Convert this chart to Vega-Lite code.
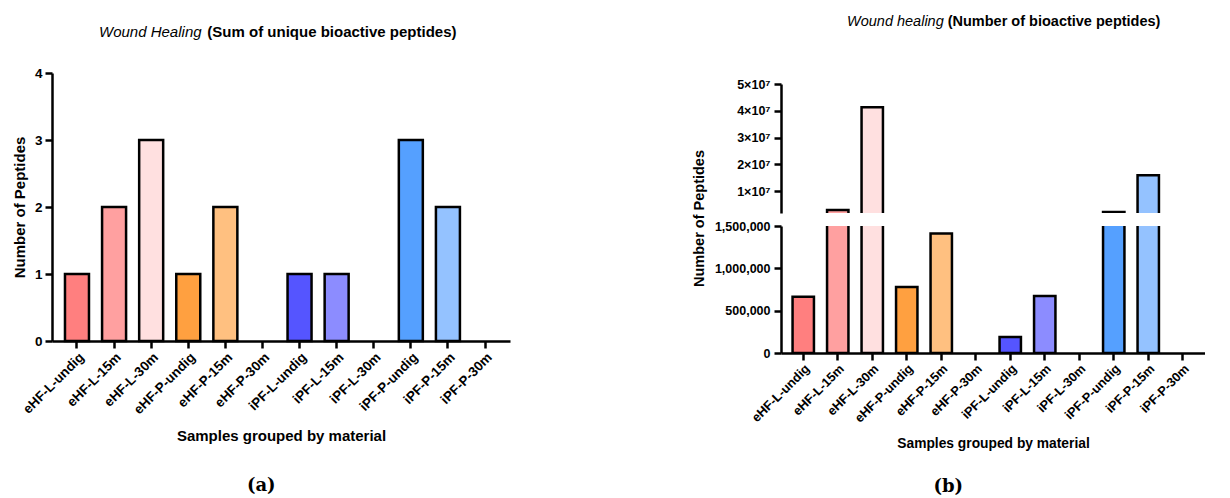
{
  "$schema": "https://vega.github.io/schema/vega-lite/v6.json",
  "padding": {"left": 12, "top": 13, "right": 0, "bottom": 0},
  "config": {
    "view": {"stroke": null},
    "font": "Liberation Sans",
    "axis": {"domainColor": "#000", "domainWidth": 2.5, "tickColor": "#000", "tickWidth": 2.5, "tickSize": 7, "labelColor": "#000", "labelFontWeight": "bold", "titleColor": "#000", "titleFontWeight": "bold", "grid": false, "labelFont": "Liberation Sans", "titleFont": "Liberation Sans"},
    "bar": {"stroke": "#000", "strokeWidth": 2.5},
    "title": {"color": "#000", "subtitleColor": "#000", "font": "Liberation Sans", "subtitleFont": "Liberation Sans"}
  },
  "datasets": {
    "a": [
      {"sample": "eHF-L-undig", "value": 1},
      {"sample": "eHF-L-15m", "value": 2},
      {"sample": "eHF-L-30m", "value": 3},
      {"sample": "eHF-P-undig", "value": 1},
      {"sample": "eHF-P-15m", "value": 2},
      {"sample": "eHF-P-30m", "value": 0},
      {"sample": "iPF-L-undig", "value": 1},
      {"sample": "iPF-L-15m", "value": 1},
      {"sample": "iPF-L-30m", "value": 0},
      {"sample": "iPF-P-undig", "value": 3},
      {"sample": "iPF-P-15m", "value": 2},
      {"sample": "iPF-P-30m", "value": 0}
    ],
    "b": [
      {"sample": "eHF-L-undig", "value": 665000},
      {"sample": "eHF-L-15m", "value": 3000000},
      {"sample": "eHF-L-30m", "value": 41300000},
      {"sample": "eHF-P-undig", "value": 780000},
      {"sample": "eHF-P-15m", "value": 1410000},
      {"sample": "eHF-P-30m", "value": 0},
      {"sample": "iPF-L-undig", "value": 190000},
      {"sample": "iPF-L-15m", "value": 674000},
      {"sample": "iPF-L-30m", "value": 0},
      {"sample": "iPF-P-undig", "value": 2300000},
      {"sample": "iPF-P-15m", "value": 16000000},
      {"sample": "iPF-P-30m", "value": 0}
    ]
  },
  "concat": [
    {
      "vconcat": [
        {
          "width": 458,
          "height": 268,
          "data": {"name": "a"},
          "title": {
            "text": "Wound Healing",
            "fontStyle": "italic",
            "fontWeight": "normal",
            "fontSize": 15,
            "anchor": "start",
            "frame": "group",
            "align": "left",
            "dx": 47,
            "offset": 26,
            "subtitle": "\u200b\u00a0\u00a0\u00a0\u00a0\u00a0\u00a0\u00a0\u00a0\u00a0\u00a0\u00a0\u00a0\u00a0\u00a0\u00a0\u00a0\u00a0\u00a0\u00a0\u00a0\u00a0\u00a0\u00a0\u00a0\u00a0\u00a0(Sum of unique bioactive peptides)",
            "subtitleFontWeight": "bold",
            "subtitleFontStyle": "normal",
            "subtitleFontSize": 15,
            "subtitlePadding": -15
          },
          "mark": {"type": "bar"},
          "encoding": {
            "x": {"field": "sample", "type": "nominal", "sort": null,
              "scale": {"paddingInner": 0.353, "paddingOuter": 0.35},
              "axis": {"title": "Samples grouped by material", "titleFontSize": 15, "labelFontSize": 13.5, "labelAngle": -45, "labelPadding": 2, "titlePadding": 12}},
            "y": {"field": "value", "type": "quantitative",
              "scale": {"domain": [0, 4], "nice": false},
              "axis": {"values": [0, 1, 2, 3, 4], "format": "d", "title": "Number of Peptides", "titleFontSize": 15, "labelFontSize": 13.5, "labelPadding": 3, "titlePadding": 7}},
            "color": {"field": "sample", "type": "nominal", "sort": null,
              "scale": {"domain": ["eHF-L-undig", "eHF-L-15m", "eHF-L-30m", "eHF-P-undig", "eHF-P-15m", "eHF-P-30m", "iPF-L-undig", "iPF-L-15m", "iPF-L-30m", "iPF-P-undig", "iPF-P-15m", "iPF-P-30m"],
                "range": ["#FF7F7F", "#FFA0A0", "#FFE0E0", "#FFA040", "#FFC080", "#FFE0C0", "#5555FF", "#8C8CFF", "#C6C6FF", "#55A0FF", "#94C2FF", "#CCE3FF"]},
              "legend": null},
            "strokeOpacity": {"condition": {"test": "datum.value === 0", "value": 0}, "value": 1}
          }
        }
      ],
      "title": {"text": "(a)", "orient": "bottom", "anchor": "middle", "font": "DejaVu Serif", "fontSize": 18, "fontWeight": "bold", "offset": 34}
    },
    {
      "vconcat": [
        {
          "width": 424,
          "height": 1,
          "data": {"values": [{}]},
          "mark": {"type": "text", "text": ""},
          "encoding": {}
        },
        {
          "vconcat": [
            {
              "width": 424,
              "height": 129,
              "data": {"name": "b"},
              "title": {
                "text": "Wound healing",
                "fontStyle": "italic",
                "fontWeight": "normal",
                "fontSize": 14.5,
                "anchor": "start",
                "frame": "group",
                "align": "left",
                "dx": 66,
                "offset": 49,
                "subtitle": "\u200b\u00a0\u00a0\u00a0\u00a0\u00a0\u00a0\u00a0\u00a0\u00a0\u00a0\u00a0\u00a0\u00a0\u00a0\u00a0\u00a0\u00a0\u00a0\u00a0\u00a0\u00a0\u00a0\u00a0\u00a0\u00a0(Number of bioactive peptides)",
                "subtitleFontWeight": "bold",
                "subtitleFontStyle": "normal",
                "subtitleFontSize": 14.5,
                "subtitlePadding": -14.5
              },
              "mark": {"type": "bar", "clip": true},
              "encoding": {
                "x": {"field": "sample", "type": "nominal", "sort": null,
                  "scale": {"paddingInner": 0.38, "paddingOuter": 0.335},
                  "axis": null},
                "y": {"field": "value", "type": "quantitative",
                  "scale": {"domain": [1900000, 50000000], "nice": false, "zero": false},
                  "axis": {"values": [10000000, 20000000, 30000000, 40000000, 50000000], "labelExpr": "format(datum.value / 10000000, 'd') + '×10⁷'", "title": null, "labelFontSize": 12.5, "labelPadding": 4}},
                "color": {"field": "sample", "type": "nominal", "sort": null,
                  "scale": {"domain": ["eHF-L-undig", "eHF-L-15m", "eHF-L-30m", "eHF-P-undig", "eHF-P-15m", "eHF-P-30m", "iPF-L-undig", "iPF-L-15m", "iPF-L-30m", "iPF-P-undig", "iPF-P-15m", "iPF-P-30m"],
                    "range": ["#FF7F7F", "#FFA0A0", "#FFE0E0", "#FFA040", "#FFC080", "#FFE0C0", "#5555FF", "#8C8CFF", "#C6C6FF", "#55A0FF", "#94C2FF", "#CCE3FF"]},
                  "legend": null},
                "strokeOpacity": {"condition": {"test": "datum.value === 0", "value": 0}, "value": 1}
              }
            },
            {
              "width": 424,
              "height": 127,
              "data": {"name": "b"},
              "mark": {"type": "bar", "clip": true},
              "encoding": {
                "x": {"field": "sample", "type": "nominal", "sort": null,
                  "scale": {"paddingInner": 0.38, "paddingOuter": 0.335},
                  "axis": {"title": "Samples grouped by material", "titleFontSize": 13.8, "labelFontSize": 12.8, "labelAngle": -45, "labelPadding": 2, "titlePadding": 12}},
                "y": {"field": "value", "type": "quantitative",
                  "scale": {"domain": [0, 1500000], "nice": false},
                  "axis": {"values": [0, 500000, 1000000, 1500000], "format": ",d", "title": "Number of Peptides", "titleFontSize": 14.5, "labelFontSize": 12.5, "labelPadding": 4, "titlePadding": 8, "titleY": -8}},
                "color": {"field": "sample", "type": "nominal", "sort": null,
                  "scale": {"domain": ["eHF-L-undig", "eHF-L-15m", "eHF-L-30m", "eHF-P-undig", "eHF-P-15m", "eHF-P-30m", "iPF-L-undig", "iPF-L-15m", "iPF-L-30m", "iPF-P-undig", "iPF-P-15m", "iPF-P-30m"],
                    "range": ["#FF7F7F", "#FFA0A0", "#FFE0E0", "#FFA040", "#FFC080", "#FFE0C0", "#5555FF", "#8C8CFF", "#C6C6FF", "#55A0FF", "#94C2FF", "#CCE3FF"]},
                  "legend": null},
                "strokeOpacity": {"condition": {"test": "datum.value === 0", "value": 0}, "value": 1}
              }
            }
          ],
          "spacing": 13,
          "bounds": "flush",
          "resolve": {"scale": {"y": "independent"}}
        }
      ],
      "spacing": 10,
      "bounds": "flush",
      "title": {"text": "(b)", "orient": "bottom", "anchor": "middle", "font": "DejaVu Serif", "fontSize": 18, "fontWeight": "bold", "offset": 27}
    }
  ],
  "columns": 2,
  "align": "none",
  "spacing": 181
}
